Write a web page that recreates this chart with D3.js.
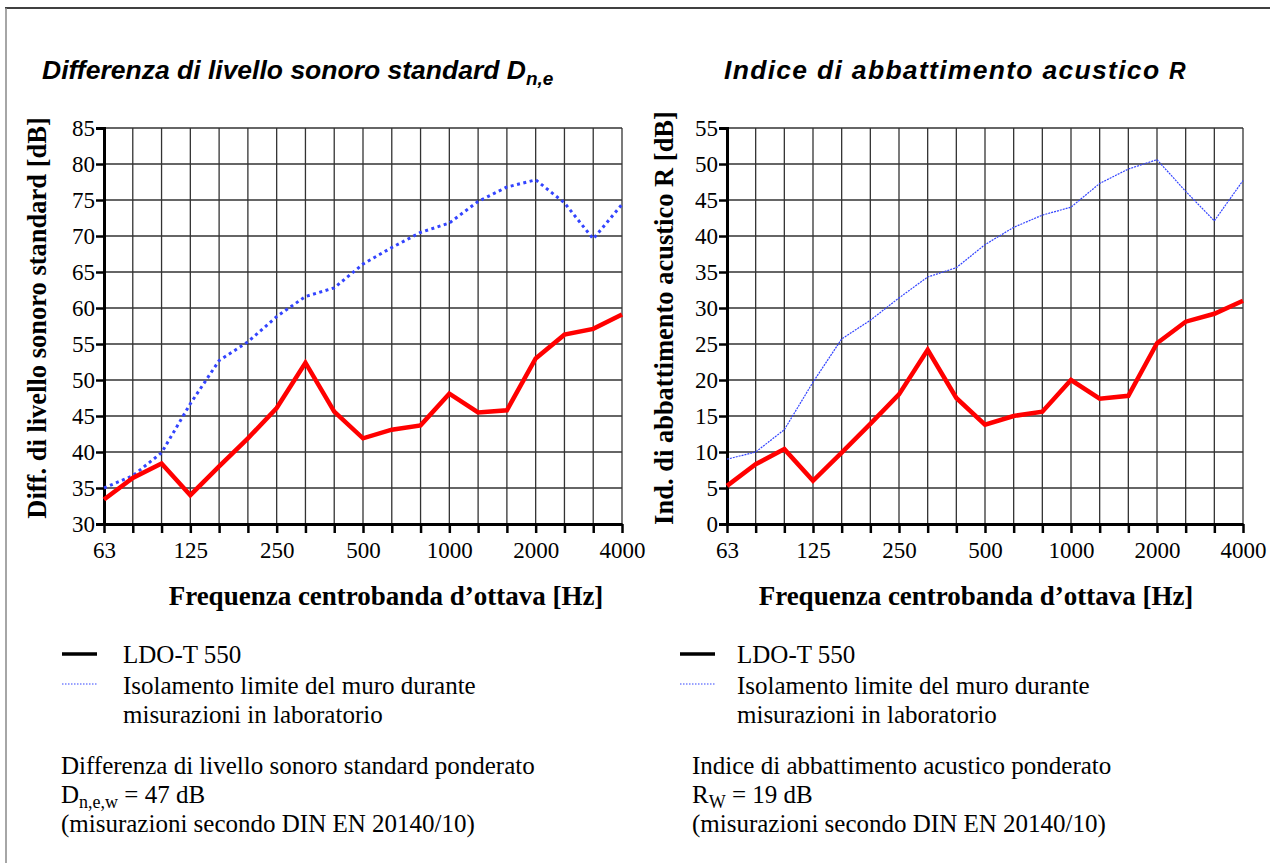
<!DOCTYPE html>
<html>
<head>
<meta charset="utf-8">
<script src="https://cdn.jsdelivr.net/npm/d3@7"></script>
<style>
  body { margin: 0; background: #fff; }
  svg { display: block; }
</style>
</head>
<body>
<div id="chart"></div>
<script>
// third-octave bands
const freqs = [63, 80, 100, 125, 160, 200, 250, 315, 400, 500, 630, 800, 1000, 1250, 1600, 2000, 2500, 3150, 4000];
const tickFreqs = [63, 125, 250, 500, 1000, 2000, 4000];

// Left chart: Dn,e
const dneProduct = [33.4, 36.4, 38.4, 34.0, 38.0, 41.9, 46.1, 52.4, 45.6, 41.9, 43.1, 43.7, 48.1, 45.5, 45.8, 53.0, 56.3, 57.1, 59.1];
const dneLimit = [35.0, 36.7, 39.9, 46.7, 52.7, 55.3, 58.8, 61.6, 62.8, 66.1, 68.4, 70.5, 71.8, 74.8, 76.8, 77.8, 74.6, 69.6, 74.4];

// Right chart: R
const rProduct = [5.3, 8.3, 10.4, 6.0, 9.9, 13.9, 18.0, 24.2, 17.5, 13.8, 15.0, 15.6, 20.0, 17.4, 17.8, 25.1, 28.1, 29.2, 31.0];
const rLimit = [9.0, 10.0, 13.1, 19.7, 25.7, 28.3, 31.4, 34.3, 35.6, 38.8, 41.2, 42.9, 44.0, 47.3, 49.3, 50.6, 46.2, 42.1, 47.7];

const W = 1270, H = 863;
const serif = "'Liberation Serif', 'Times New Roman', serif";
const sans = "'Liberation Sans', Arial, sans-serif";

const svg = d3.select("#chart").append("svg")
    .attr("width", W)
    .attr("height", H);

// frame
svg.append("line").attr("x1", 5).attr("x2", W).attr("y1", 8).attr("y2", 8)
    .attr("stroke", "#000").attr("stroke-width", 1.5);
svg.append("line").attr("x1", 6).attr("x2", 6).attr("y1", 8).attr("y2", H)
    .attr("stroke", "#888").attr("stroke-width", 1.5);

function drawPanel(opt) {
    const x = d3.scaleLinear().domain([0, freqs.length - 1]).range([opt.x0, opt.x1]);
    const y = d3.scaleLinear().domain(opt.domain).range([524, 128]);
    const g = svg.append("g");

    // title
    const t = g.append("text")
        .attr("x", opt.titleX).attr("y", 79)
        .style("font-family", sans).style("font-size", "26.5px")
        .style("font-weight", "bold").style("font-style", "italic")
        .style("letter-spacing", opt.titleSpacing);
    t.append("tspan").text(opt.title);
    if (opt.titleSub) {
        t.append("tspan").attr("dy", 6).style("font-size", "19px").text(opt.titleSub);
    } else {
        t.append("tspan").style("font-size", "23px").text(opt.titleEnd);
    }

    // grid
    const yTicks = d3.range(opt.domain[0], opt.domain[1] + 1, 5);
    g.append("g").selectAll("line").data(yTicks).join("line")
        .attr("x1", opt.x0).attr("x2", opt.x1)
        .attr("y1", d => y(d)).attr("y2", d => y(d))
        .attr("stroke", "#333").attr("stroke-width", 1.3);
    g.append("g").selectAll("line").data(d3.range(1, freqs.length)).join("line")
        .attr("x1", d => x(d)).attr("x2", d => x(d))
        .attr("y1", 128).attr("y2", 524)
        .attr("stroke", "#333").attr("stroke-width", 1.3);

    // y axis
    const yAxis = g.append("g").attr("transform", `translate(${opt.x0},0)`)
        .call(d3.axisLeft(y).tickValues(yTicks).tickSize(8).tickPadding(1).tickFormat(d3.format("d")));
    yAxis.select(".domain").attr("stroke-width", 3);
    yAxis.selectAll(".tick line").attr("stroke-width", 2.5);
    yAxis.selectAll("text").style("font-family", serif).style("font-size", "23px").attr("fill", "#000").attr("dy", "0.33em");

    // x axis
    const xAxis = g.append("g").attr("transform", "translate(0,524)")
        .call(d3.axisBottom(x).tickValues(d3.range(freqs.length)).tickSize(9).tickSizeOuter(0)
            .tickFormat(i => tickFreqs.includes(freqs[i]) ? freqs[i] : ""));
    xAxis.select(".domain").attr("stroke-width", 3);
    xAxis.selectAll(".tick line").attr("stroke-width", 2.5);
    xAxis.selectAll("text").style("font-family", serif).style("font-size", "23px").attr("fill", "#000").attr("dy", "0.95em");

    // axis titles
    g.append("text")
        .attr("transform", `translate(${opt.yTitleX},318) rotate(-90)`)
        .attr("text-anchor", "middle")
        .style("font-family", serif).style("font-size", "26.5px").style("font-weight", "bold")
        .text(opt.yTitle);
    g.append("text")
        .attr("x", opt.xTitleX).attr("y", 605)
        .attr("text-anchor", "middle")
        .style("font-family", serif).style("font-size", "27px").style("font-weight", "bold")
        .text("Frequenza centrobanda d\u2019ottava [Hz]");

    const line = d3.line().x((d, i) => x(i)).y(d => y(d));

    g.append("path").datum(opt.limit)
        .attr("d", line).attr("fill", "none")
        .attr("stroke", "#3344ff")
        .attr("stroke-width", opt.limitWidth)
        .attr("stroke-dasharray", opt.limitDash);

    g.append("path").datum(opt.product)
        .attr("d", line).attr("fill", "none")
        .attr("stroke", "#ff0000").attr("stroke-width", 4.5)
        .attr("stroke-linejoin", "miter");

    // legend
    const lx = opt.legendX;
    g.append("line").attr("x1", lx).attr("x2", lx + 35).attr("y1", 654).attr("y2", 654)
        .attr("stroke", "#000").attr("stroke-width", 3.5);
    g.append("line").attr("x1", lx).attr("x2", lx + 35).attr("y1", 684).attr("y2", 684)
        .attr("stroke", "#3344ff").attr("stroke-width", 1.2).attr("stroke-dasharray", "1.5,1.5");
    const legText = [["LDO-T 550", 663], ["Isolamento limite del muro durante", 694], ["misurazioni in laboratorio", 723]];
    g.append("g").selectAll("text").data(legText).join("text")
        .attr("x", opt.legendTextX).attr("y", d => d[1])
        .style("font-family", serif).style("font-size", "25px")
        .text(d => d[0]);

    const px = opt.noteX;
    const note = g.append("g").style("font-family", serif).style("font-size", "25px");
    note.append("text").attr("x", px).attr("y", 774).text(opt.noteTitle);
    const v = note.append("text").attr("x", px).attr("y", 803);
    v.append("tspan").text(opt.noteSym);
    v.append("tspan").attr("dy", 5).style("font-size", "18px").text(opt.noteSub);
    v.append("tspan").attr("dy", -5).text(opt.noteVal);
    note.append("text").attr("x", px).attr("y", 832).text("(misurazioni secondo DIN EN 20140/10)");
}

drawPanel({
    x0: 104, x1: 622, domain: [30, 85],
    title: "Differenza di livello sonoro standard D", titleSub: "n,e", titleX: 42, titleSpacing: "0px",
    yTitleX: 46, yTitle: "Diff. di livello sonoro standard [dB]",
    xTitleX: 386,
    product: dneProduct, limit: dneLimit, limitWidth: 3, limitDash: "3,3.5",
    legendX: 62, legendTextX: 123, noteX: 61,
    noteTitle: "Differenza di livello sonoro standard ponderato",
    noteSym: "D", noteSub: "n,e,w", noteVal: " = 47 dB"
});

drawPanel({
    x0: 727, x1: 1243, domain: [0, 55],
    title: "Indice di abbattimento acustico ", titleSub: null, titleEnd: "R", titleX: 724, titleSpacing: "1.3px",
    yTitleX: 673, yTitle: "Ind. di abbattimento acustico R [dB]",
    xTitleX: 976,
    product: rProduct, limit: rLimit, limitWidth: 1.2, limitDash: "2,1",
    legendX: 680, legendTextX: 737, noteX: 692,
    noteTitle: "Indice di abbattimento acustico ponderato",
    noteSym: "R", noteSub: "W", noteVal: " = 19 dB"
});
</script>
</body>
</html>
